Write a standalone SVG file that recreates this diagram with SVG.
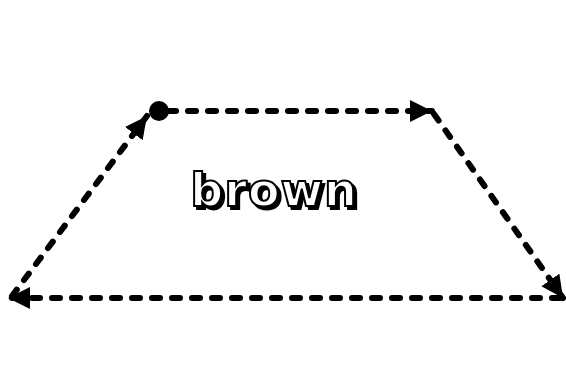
<svg xmlns="http://www.w3.org/2000/svg" width="566" height="367" viewBox="0 0 566 367">
<style>
.edge{fill:none;stroke:#000;stroke-width:6;stroke-dasharray:8 12;stroke-linecap:round;marker-end:url(#ah)}
.lbl{font-family:"DejaVu Sans",sans-serif;font-weight:bold;font-size:46px;text-anchor:middle;letter-spacing:1px}
</style>
<defs>
<marker id="ah" markerUnits="userSpaceOnUse" markerWidth="24" markerHeight="24" viewBox="0 0 24 24" refX="22" refY="12" orient="auto">
<path d="M0,1 L22,12 L0,23 Z" fill="#000"/>
</marker>
<filter id="sh" x="-10%" y="-20%" width="130%" height="150%">
<feOffset in="SourceAlpha" dx="2.5" dy="2.5" result="o"/>
<feMerge><feMergeNode in="o"/><feMergeNode in="SourceGraphic"/></feMerge>
</filter>
</defs>
<rect width="566" height="367" fill="#fff"/>
<g id="connectors">
<path class="edge" d="M168,111 L432,111"/>
<path class="edge" d="M434,114 L563,298"/>
<path class="edge" d="M560,298 L8,298"/>
<path class="edge" d="M12,296 L147,116"/>
</g>
<g id="start">
<circle cx="159" cy="111" r="10" fill="#000"/>
</g>
<g id="label">
<text class="lbl" x="274" y="206" fill="#fff" stroke="#000" stroke-width="2" filter="url(#sh)">brown</text>
</g>
</svg>
